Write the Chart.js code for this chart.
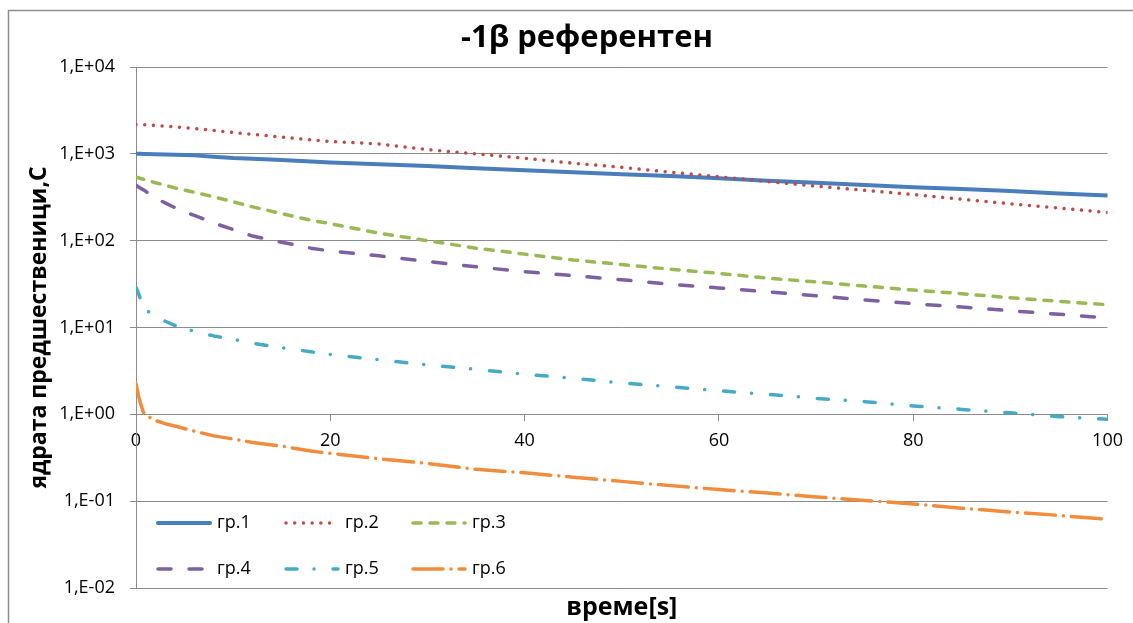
<!DOCTYPE html>
<html>
<head>
<meta charset="utf-8">
<title>-1β референтен</title>
<script src="https://cdn.jsdelivr.net/npm/chart.js@4.4.1/dist/chart.umd.min.js"></script>
<style>
  html, body { margin: 0; padding: 0; background: #ffffff; }
  #wrap { width: 1133px; height: 623px; position: relative; }
</style>
</head>
<body>
<div id="wrap"><canvas id="c" width="1133" height="623"></canvas></div>
<script>
// Time axis (s)
const times = [0, 0.25, 0.5, 0.75, 1, 2, 3, 4, 6, 8, 10, 12, 15, 18, 20,
  25, 30, 35, 40, 45, 50, 55, 60, 65, 70, 75, 80, 85, 90, 95, 100];

// Delayed-neutron precursor concentrations per group
const gr1 = [1000, 1000, 999, 998, 997, 990, 983, 975, 960, 928, 895, 875, 848, 815, 795,
  760, 722, 683, 645, 612, 583, 555, 525, 490, 463, 438, 412, 393, 373, 350, 332];
const gr2 = [2180, 2175, 2170, 2165, 2160, 2120, 2085, 2050, 1960, 1860, 1760, 1680, 1560, 1450, 1390,
  1300, 1120, 1000, 890, 780, 700, 615, 545, 480, 425, 380, 340, 300, 266, 238, 211];
const gr3 = [540, 530, 520, 510, 500, 465, 435, 405, 360, 320, 280, 245, 205, 172, 157,
  122, 100, 82, 70, 60, 53, 47, 42, 37, 33.5, 30, 27, 24.5, 22, 20, 18.3];
const gr4 = [435, 415, 400, 385, 370, 310, 272, 240, 195, 160, 134, 113, 96, 82, 76,
  67, 57.5, 50, 44, 39.5, 35.5, 31.5, 28.5, 25.8, 23.2, 20.8, 18.8, 17.2, 15.6, 14.2, 12.9];
const gr5 = [29, 25, 20.5, 17.5, 16, 13.4, 11.8, 10.6, 9.0, 8.0, 7.3, 6.6, 5.85, 5.25, 4.9,
  4.25, 3.7, 3.3, 2.9, 2.6, 2.3, 2.08, 1.87, 1.70, 1.53, 1.40, 1.25, 1.14, 1.04, 0.94, 0.875];
const gr6 = [2.25, 1.65, 1.3, 1.06, 0.98, 0.85, 0.78, 0.735, 0.64, 0.565, 0.52, 0.475, 0.43, 0.378, 0.355,
  0.308, 0.272, 0.233, 0.212, 0.189, 0.169, 0.151, 0.136, 0.124, 0.112, 0.102, 0.093, 0.083, 0.075, 0.0686, 0.0617];

const seriesNames = ['гр.1', 'гр.2', 'гр.3', 'гр.4', 'гр.5', 'гр.6'];
const seriesValues = [gr1, gr2, gr3, gr4, gr5, gr6];

// Axis ticks
const xTickStep = 20;
const yTickValues = [0.01, 0.1, 1, 10, 100, 1000, 10000];
const yTickLabels = ['1,E-02', '1,E-01', '1,E+00', '1,E+01', '1,E+02', '1,E+03', '1,E+04'];

const chartTitle = '-1β референтен';
const xTitle = 'време[s]';
const yTitle = 'ядрата предшественици,С';

// Styling
const colors = ['#4a7ebb', '#be4b48', '#98b954', '#7d60a0', '#46aac5', '#f08c3c'];
const dashes = [[], [0.01, 8.7], [8, 9], [13, 18], [11, 17, 0.01, 19], [30, 8, 0.01, 8]];
const gridColor = '#8c8c8c';
const FONT = '"Open Sans", "Noto Sans", "DejaVu Sans", sans-serif';

// Outer chart frame
const framePlugin = {
  id: 'frame',
  beforeDraw(chart) {
    const ctx = chart.ctx;
    ctx.save();
    ctx.fillStyle = '#ffffff';
    ctx.fillRect(0, 0, chart.width, chart.height);
    ctx.strokeStyle = '#8e8e8e';
    ctx.lineWidth = 1.5;
    ctx.beginPath();
    ctx.moveTo(8.5, chart.height + 5);
    ctx.lineTo(8.5, 10.5);
    ctx.lineTo(chart.width + 5, 10.5);
    ctx.stroke();
    ctx.restore();
  }
};

// Main title
const titlePlugin = {
  id: 'mainTitle',
  afterDraw(chart) {
    const ctx = chart.ctx;
    ctx.save();
    ctx.font = 'bold 31px ' + FONT;
    ctx.fillStyle = '#000';
    ctx.textAlign = 'center';
    ctx.textBaseline = 'middle';
    ctx.fillText(chartTitle, 587, 38);
    ctx.restore();
  }
};

// Legend drawn inside the plot, two rows of three
const legendPlugin = {
  id: 'insideLegend',
  afterDraw(chart) {
    const ctx = chart.ctx;
    const colX = [156, 284, 411];
    const rowY = [523, 569];
    ctx.save();
    chart.data.datasets.forEach((ds, i) => {
      const x = colX[i % 3];
      const y = rowY[Math.floor(i / 3)];
      ctx.strokeStyle = ds.borderColor;
      ctx.lineWidth = ds.borderWidth;
      ctx.lineCap = 'round';
      ctx.setLineDash(ds.borderDash || []);
      ctx.beginPath();
      ctx.moveTo(x + 2, y);
      ctx.lineTo(x + 54, y);
      ctx.stroke();
      ctx.setLineDash([]);
      ctx.font = '18px ' + FONT;
      ctx.fillStyle = '#000';
      ctx.textAlign = 'left';
      ctx.textBaseline = 'middle';
      ctx.fillText(ds.label, x + 61, y);
    });
    ctx.restore();
  }
};

new Chart(document.getElementById('c'), {
  type: 'line',
  data: {
    datasets: seriesNames.map((name, i) => ({
      label: name,
      data: times.map((t, k) => ({ x: t, y: seriesValues[i][k] })),
      borderColor: colors[i],
      backgroundColor: colors[i],
      borderWidth: i === 0 ? 4 : 3.5,
      borderDash: dashes[i],
      borderCapStyle: 'round',
      borderJoinStyle: 'round',
      pointRadius: 0,
      fill: false,
      tension: 0,
      order: seriesNames.length - i
    }))
  },
  options: {
    responsive: false,
    animation: false,
    devicePixelRatio: 1,
    layout: { padding: { top: 67, right: 24, left: 0, bottom: 0 } },
    plugins: {
      legend: { display: false },
      tooltip: { enabled: false },
      title: { display: false }
    },
    scales: {
      x: {
        type: 'linear',
        min: 0,
        max: 100,
        position: { y: 1 },
        ticks: { stepSize: xTickStep, font: { family: FONT, size: 18 }, color: '#000', padding: 10, maxRotation: 0 },
        grid: { drawOnChartArea: false, drawTicks: true, tickLength: 6, color: gridColor },
        border: { color: gridColor, width: 1 }
      },
      xTitleAxis: {
        axis: 'x',
        type: 'linear',
        position: 'bottom',
        min: 0,
        max: 100,
        grid: { display: false, drawTicks: false },
        border: { display: false },
        ticks: { display: false },
        title: {
          display: true,
          text: xTitle,
          color: '#000',
          font: { family: FONT, size: 25, weight: 'bold' },
          padding: { top: 5, bottom: 0 }
        }
      },
      y: {
        type: 'logarithmic',
        min: 0.01,
        max: 10000,
        afterBuildTicks: (scale) => { scale.ticks = yTickValues.map(v => ({ value: v })); },
        afterFit: (scale) => { scale.width = 136; },
        ticks: {
          font: { family: FONT, size: 18 },
          color: '#000',
          padding: 15,
          callback: (value) => yTickLabels[yTickValues.indexOf(value)]
        },
        grid: { color: gridColor, tickLength: 6 },
        border: { color: gridColor },
        title: {
          display: true,
          text: yTitle,
          color: '#000',
          font: { family: FONT, size: 23, weight: 'bold' },
          padding: { top: 26, bottom: 0 }
        }
      }
    }
  },
  plugins: [framePlugin, titlePlugin, legendPlugin]
});
</script>
</body>
</html>
